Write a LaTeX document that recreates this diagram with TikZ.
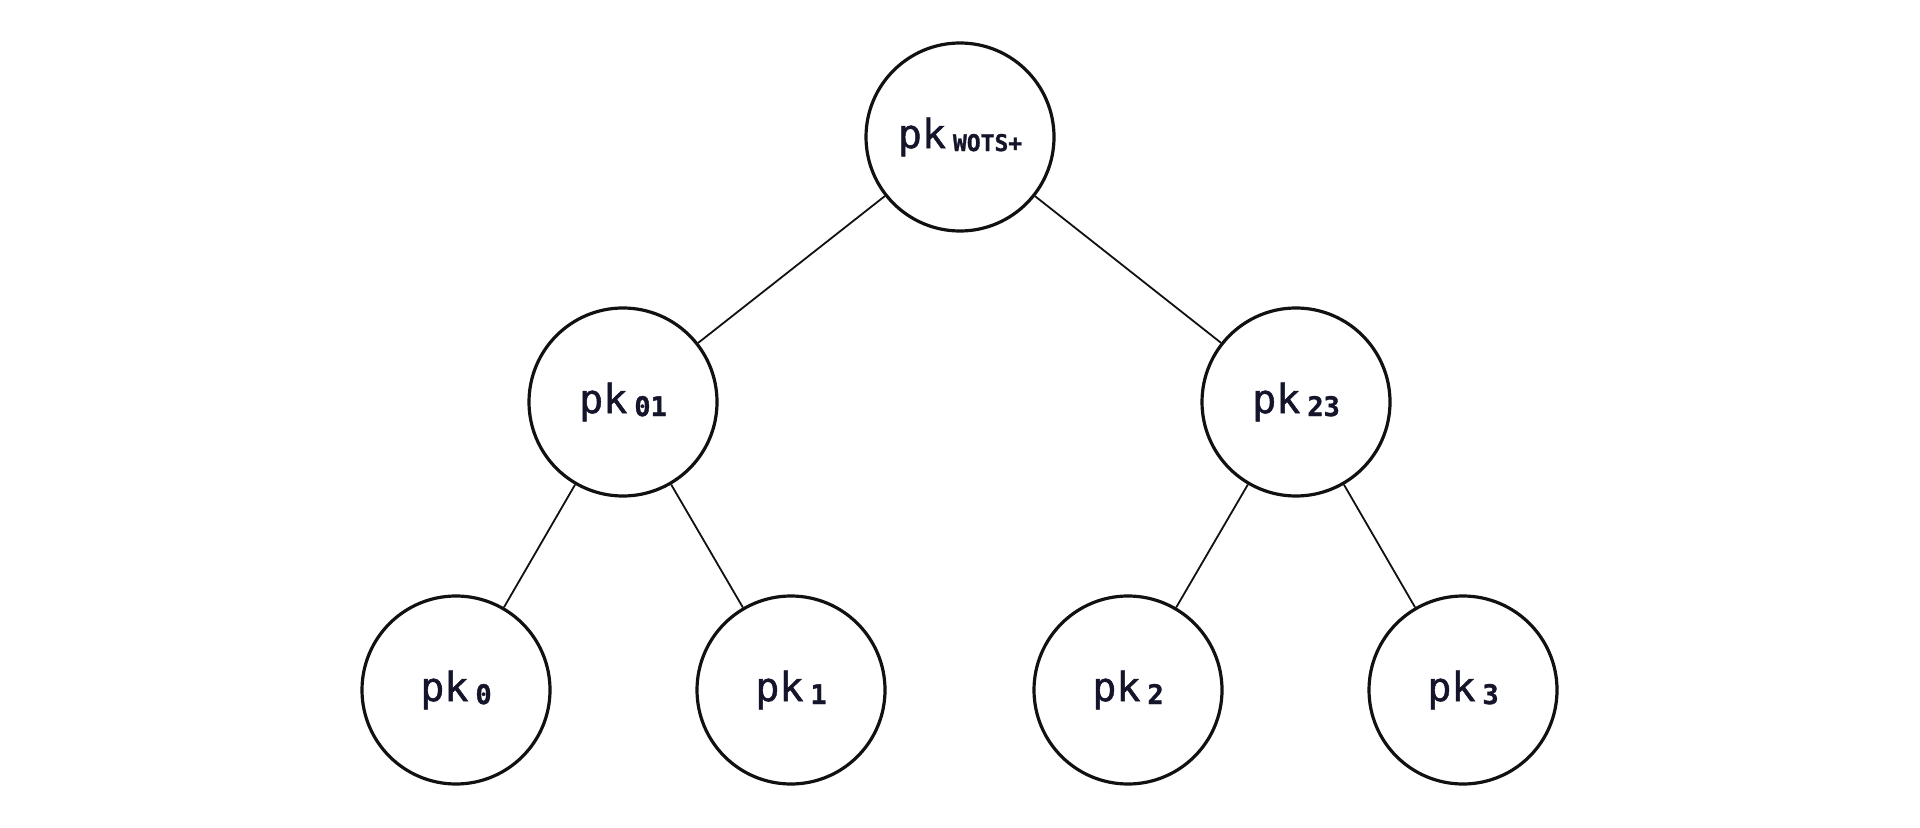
\documentclass[tikz,border=0pt]{standalone}
\usepackage{fontspec}
\setmonofont{DejaVu Sans Mono}
\newfontfamily\keyfont[FakeBold=1.2]{DejaVu Sans Mono}
\usetikzlibrary{positioning}
\definecolor{ink}{RGB}{20,20,42}
\definecolor{rim}{RGB}{17,17,17}

\newcommand{\pklabel}[2]{pk\hspace{3.5pt}\raisebox{-1.5pt}{\fontsize{#2}{#2}\selectfont\bfseries #1}}

\begin{document}
\begin{tikzpicture}[
  x=0.5pt, y=-0.5pt,
  every node/.style={font=\keyfont\fontsize{20}{22}\selectfont, text=ink},
  keynode/.style={circle, draw=rim, line width=1.6pt, fill=white,
               minimum size=94pt, inner sep=0pt},
  link/.style={draw=rim, line width=0.9pt}
]

\useasboundingbox (0,0) rectangle (1920,828);

\node[keynode] (root) at (960,137) {\pklabel{WOTS+}{11.5}};

\node[keynode] (n01) at (623,402) {\pklabel{01}{13.5}};
\node[keynode] (n23) at (1296,402) {\pklabel{23}{13.5}};

\node[keynode] (n0) at (456,690) {\pklabel{0}{13.5}};
\node[keynode] (n1) at (791,690) {\pklabel{1}{13.5}};
\node[keynode] (n2) at (1128,690) {\pklabel{2}{13.5}};
\node[keynode] (n3) at (1463,690) {\pklabel{3}{13.5}};

\draw[link] (root) -- (n01);
\draw[link] (root) -- (n23);
\draw[link] (n01) -- (n0);
\draw[link] (n01) -- (n1);
\draw[link] (n23) -- (n2);
\draw[link] (n23) -- (n3);

\end{tikzpicture}
\end{document}
